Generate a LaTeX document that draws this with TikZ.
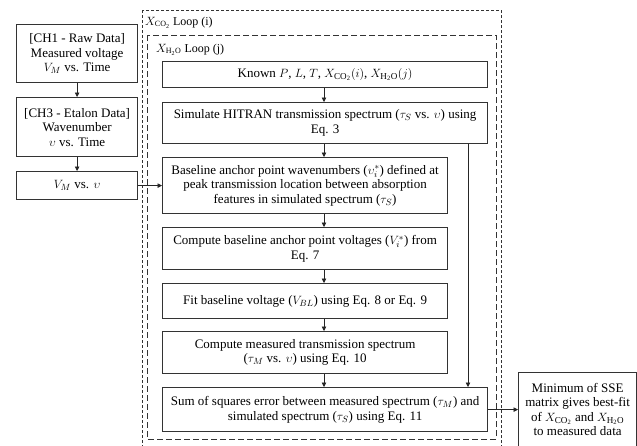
\documentclass[tikz,border=0pt]{standalone}
\usepackage{fontspec}
\setmainfont{Liberation Serif}
\usetikzlibrary{arrows.meta}

\begin{document}
\begin{tikzpicture}[x=1pt, y=-1pt,
  box/.style={draw=black!80, line width=1.2pt, align=center, inner sep=0pt,
    anchor=north west, font=\fontsize{13}{14.5}\selectfont},
  arr/.style={-{Triangle[length=4.5pt,width=4.5pt]}, line width=0.7pt, draw=black!85},
  outerloop/.style={draw=black!80, line width=1pt, dash pattern=on 3pt off 2pt},
  innerloop/.style={draw=black!80, line width=1pt, dash pattern=on 6pt off 3pt},
  looplabel/.style={anchor=base west, inner sep=0pt, font=\fontsize{12}{14}\selectfont}]
\useasboundingbox (0,0) rectangle (637,445);
\fill[white] (0,0) rectangle (637,445);

% loop frames
\draw[outerloop] (142,10) rectangle (501,452);
\draw[innerloop] (147,35) rectangle (496,439);
\node[looplabel] (co2lbl) at (145,25) {$X_{\mathrm{CO_2}}$ Loop (i)};
\node[looplabel] (h2olbl) at (156,52) {$X_{\mathrm{H_2O}}$ Loop (j)};

% data preparation column
\node[box, minimum width=121pt, minimum height=58pt] (ch1) at (16,24)
  {[CH1 - Raw Data]\\Measured voltage\\$V_M$ vs. Time};
\node[box, minimum width=121pt, minimum height=59pt] (ch3) at (16,97)
  {[CH3 - Etalon Data]\\Wavenumber\\$\upsilon$ vs. Time};
\node[box, minimum width=121pt, minimum height=28pt] (vm) at (16,171)
  {$V_M$ vs. $\upsilon$};

% fitting loop column
\node[box, minimum width=325pt, minimum height=26pt] (known) at (162,61)
  {Known $P$, $L$, $T$, $X_{\mathrm{CO_2}}(i)$, $X_{\mathrm{H_2O}}(j)$};
\node[box, minimum width=325pt, minimum height=41pt] (sim) at (162,102)
  {Simulate HITRAN transmission spectrum ($\tau_S$ vs. $\upsilon$) using\\Eq. 3};
\node[box, minimum width=285pt, minimum height=56pt] (anchor) at (162,157)
  {Baseline anchor point wavenumbers ($\upsilon_i^*$) defined at\\peak transmission location between absorption\\features in simulated spectrum ($\tau_S$)};
\node[box, minimum width=285pt, minimum height=42pt] (volt) at (162,227)
  {Compute baseline anchor point voltages ($V_i^*$) from\\Eq. 7};
\node[box, minimum width=285pt, minimum height=35pt] (fit) at (162,283)
  {Fit baseline voltage ($V_{BL}$) using Eq. 8 or Eq. 9};
\node[box, minimum width=285pt, minimum height=42pt] (meas) at (162,331)
  {Compute measured transmission spectrum\\($\tau_M$ vs. $\upsilon$) using Eq. 10};
\node[box, minimum width=325pt, minimum height=44pt] (sse) at (162,387)
  {Sum of squares error between measured spectrum ($\tau_M$) and\\simulated spectrum ($\tau_S$) using Eq. 11};

% result
\node[box, minimum width=118pt, minimum height=74pt] (best) at (518,372)
  {Minimum of SSE\\matrix gives best-fit\\of $X_{\mathrm{CO_2}}$ and $X_{\mathrm{H_2O}}$\\to measured data};

% column guides for the connectors
\coordinate (mid) at (324,0);
\coordinate (side) at (468,0);

% connectors
\draw[arr] (ch1) -- (ch3);
\draw[arr] (ch3) -- (vm);
\draw[arr] (vm.east) -- (anchor.west);
\draw[arr] (known.south -| mid) -- (sim.north -| mid);
\draw[arr] (sim.south -| mid) -- (anchor.north -| mid);
\draw[arr] (anchor.south -| mid) -- (volt.north -| mid);
\draw[arr] (volt.south -| mid) -- (fit.north -| mid);
\draw[arr] (fit.south -| mid) -- (meas.north -| mid);
\draw[arr] (meas.south -| mid) -- (sse.north -| mid);
\draw[arr] (sim.south -| side) -- (sse.north -| side);
\draw[arr] (sse.east) -- (best.west |- sse.east);
\end{tikzpicture}
\end{document}
